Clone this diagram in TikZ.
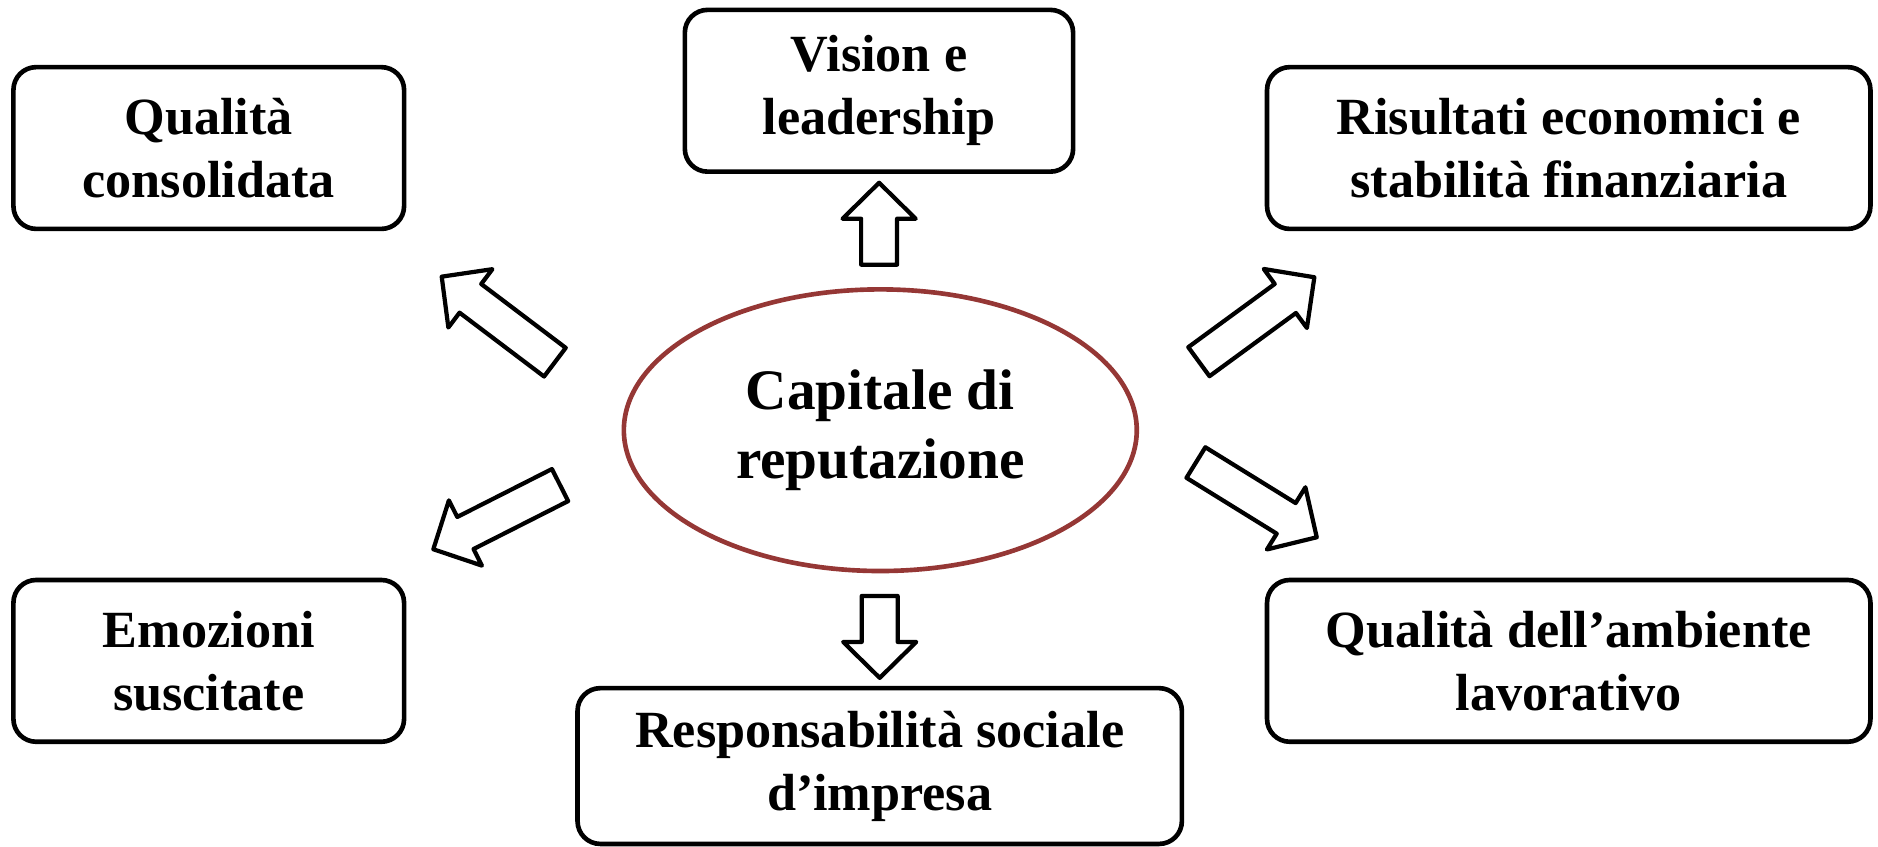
\documentclass[tikz,border=0pt]{standalone}
\usepackage{fontspec}
\setmainfont{Liberation Serif}
\usetikzlibrary{shapes.geometric,calc}
\definecolor{ellred}{RGB}{149,55,53}
\tikzset{
  box/.style={draw=black, line width=1.1pt, rounded corners=0.19cm, fill=white,
    align=center, inner sep=0pt, minimum height=1.35cm,
    font=\fontsize{12.4}{15}\selectfont\bfseries},
  centre/.style={draw=ellred, line width=1.1pt, ellipse, inner sep=0pt,
    minimum width=4.28cm, minimum height=2.35cm, align=center,
    font=\fontsize{13.6}{16.6}\selectfont\bfseries},
  barrow/.style={draw=black, fill=white, line width=1pt, line join=round}
}
\newcommand{\blockarrow}[2]{%
  \coordinate (#1b) at ($(#2)!0.30cm!(#1)$);
  \draw[barrow] ($(#1)!0.15cm!90:(#2)$) -- ($(#1b)!0.15cm!-90:(#1)$)
    -- ($(#1b)!0.305cm!-90:(#1)$) -- (#2) -- ($(#1b)!0.305cm!90:(#1)$)
    -- ($(#1b)!0.15cm!90:(#1)$) -- ($(#1)!0.15cm!-90:(#2)$) -- cycle;}
\begin{document}
\begin{tikzpicture}[x=0.01cm, y=-0.01cm]
\useasboundingbox (0,0) rectangle (1568,707);
% nodes
\node[box, minimum width=3.26cm] (qc) at (174.3,123.6) {Qualità\\consolidata};
\node[box, minimum width=3.24cm] (vl) at (733.9,75.8) {Vision e\\leadership};
\node[box, minimum width=5.035cm] (re) at (1309.8,123.6) {Risultati economici e\\stabilità finanziaria};
\node[box, minimum width=3.26cm] (es) at (174.3,551.8) {Emozioni\\suscitate};
\node[box, minimum width=5.043cm, minimum height=1.30cm] (rs) at (734.5,639.6) {Responsabilità sociale\\d’impresa};
\node[box, minimum width=5.035cm] (qa) at (1309.8,551.8) {Qualità dell’ambiente\\lavorativo};
\node[centre] (cap) at (735,359.2) {Capitale di\\reputazione};
% arrow end points
\coordinate (upt) at (734,221);    \coordinate (uph) at (734,152.6);
\coordinate (dnt) at (734.5,497.6); \coordinate (dnh) at (734.5,566);
\coordinate (ult) at (463.3,302.4); \coordinate (ulh) at (368.8,231);
\coordinate (urt) at (1001,302);    \coordinate (urh) at (1097.4,231.5);
\coordinate (llt) at (467.6,405);   \coordinate (llh) at (361.8,458.6);
\coordinate (lrt) at (998.5,386.2); \coordinate (lrh) at (1099.4,448.6);
\blockarrow{upt}{uph}
\blockarrow{dnt}{dnh}
\blockarrow{ult}{ulh}
\blockarrow{urt}{urh}
\blockarrow{llt}{llh}
\blockarrow{lrt}{lrh}
\end{tikzpicture}
\end{document}
